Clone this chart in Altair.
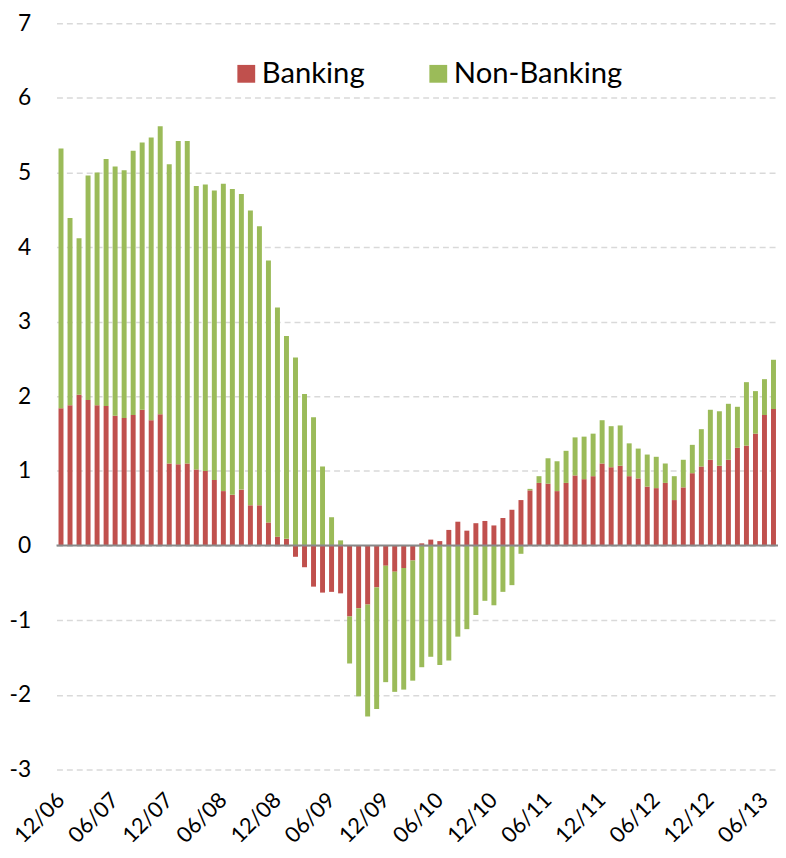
import altair as alt
import pandas as pd

months = [
    "12/06",
    "01/07", "02/07", "03/07", "04/07", "05/07", "06/07", "07/07", "08/07", "09/07", "10/07", "11/07", "12/07",
    "01/08", "02/08", "03/08", "04/08", "05/08", "06/08", "07/08", "08/08", "09/08", "10/08", "11/08", "12/08",
    "01/09", "02/09", "03/09", "04/09", "05/09", "06/09", "07/09", "08/09", "09/09", "10/09", "11/09", "12/09",
    "01/10", "02/10", "03/10", "04/10", "05/10", "06/10", "07/10", "08/10", "09/10", "10/10", "11/10", "12/10",
    "01/11", "02/11", "03/11", "04/11", "05/11", "06/11", "07/11", "08/11", "09/11", "10/11", "11/11", "12/11",
    "01/12", "02/12", "03/12", "04/12", "05/12", "06/12", "07/12", "08/12", "09/12", "10/12", "11/12", "12/12",
    "01/13", "02/13", "03/13", "04/13", "05/13", "06/13", "07/13",
]

banking = [
    1.84, 1.88, 2.02, 1.95, 1.88, 1.87, 1.74, 1.71, 1.75, 1.82, 1.68, 1.76,
    1.10, 1.09, 1.10, 1.02, 1.00, 0.88, 0.73, 0.68, 0.75, 0.54, 0.54, 0.31,
    0.12, 0.09, -0.15, -0.29, -0.55, -0.63, -0.62, -0.64, -0.95, -0.84, -0.79, -0.56,
    -0.27, -0.35, -0.30, -0.20, 0.03, 0.08, 0.06, 0.21, 0.32, 0.20, 0.30, 0.33,
    0.27, 0.37, 0.48, 0.61, 0.74, 0.84, 0.83, 0.73, 0.84, 0.94, 0.89, 0.93,
    1.10, 1.05, 1.07, 0.93, 0.90, 0.79, 0.77, 0.84, 0.61, 0.78, 0.97, 1.06,
    1.15, 1.07, 1.15, 1.31, 1.34, 1.50, 1.75, 1.83,
]

non_banking = [
    3.48, 2.51, 2.10, 3.01, 3.12, 3.31, 3.34, 3.32, 3.54, 3.58, 3.79, 3.86,
    4.01, 4.33, 4.32, 3.80, 3.84, 3.88, 4.12, 4.10, 3.96, 3.95, 3.74, 3.51,
    3.07, 2.72, 2.52, 2.03, 1.72, 1.06, 0.38, 0.07, -0.63, -1.18, -1.50, -1.63,
    -1.56, -1.61, -1.63, -1.61, -1.63, -1.49, -1.60, -1.54, -1.22, -1.12, -0.93, -0.74,
    -0.80, -0.62, -0.53, -0.11, 0.02, 0.09, 0.34, 0.40, 0.43, 0.51, 0.57, 0.57,
    0.58, 0.55, 0.54, 0.44, 0.40, 0.43, 0.42, 0.26, 0.32, 0.37, 0.38, 0.50,
    0.67, 0.73, 0.75, 0.55, 0.85, 0.57, 0.48, 0.66,
]

tick_labels = ["12/06", "06/07", "12/07", "06/08", "12/08", "06/09", "12/09",
               "06/10", "12/10", "06/11", "12/11", "06/12", "12/12", "06/13"]
y_ticks = [-3, -2, -1, 0, 1, 2, 3, 4, 5, 6, 7]
series = ["Banking", "Non-Banking"]
colors = ["#C0504D", "#9BBB59"]

rows = []
for i, m in enumerate(months):
    rows.append({"month": m, "series": series[0], "value": banking[i], "ord": 0})
    rows.append({"month": m, "series": series[1], "value": non_banking[i], "ord": 1})
df = pd.DataFrame(rows)

FONT = "Lato"

bars = alt.Chart(df).mark_bar().encode(
    x=alt.X(
        "month:N",
        sort=months,
        scale=alt.Scale(paddingInner=0.45, paddingOuter=0.225),
        axis=alt.Axis(
            values=tick_labels, labelAngle=-45, labelAlign="right", labelBaseline="middle",
            labelPadding=27, ticks=False, domain=False, grid=False, title=None,
            labelFont=FONT, labelFontSize=22, labelColor="#000000",
        ),
    ),
    y=alt.Y(
        "value:Q",
        stack="zero",
        scale=alt.Scale(domain=[-3, 7], nice=False, zero=False),
        axis=alt.Axis(
            values=y_ticks, labelExpr="'' + datum.value", grid=True, gridDash=[6, 4],
            gridColor="#d9d9d9", gridWidth=1.5, ticks=False, domain=False, labelPadding=26,
            title=None, labelFont=FONT, labelFontSize=23, labelColor="#000000",
        ),
    ),
    color=alt.Color(
        "series:N",
        scale=alt.Scale(domain=series, range=colors),
        legend=alt.Legend(
            orient="none", legendX=177, legendY=36, direction="horizontal", title=None,
            symbolType="square", symbolSize=324, symbolStrokeWidth=0, symbolOpacity=1,
            labelFont=FONT, labelFontSize=29.5, labelColor="#000000", labelOffset=1,
            labelLimit=400, columnPadding=59, padding=0,
        ),
    ),
    order=alt.Order("ord:Q"),
)

zero = alt.Chart(pd.DataFrame({"y": [0]})).mark_rule(color="#898989", strokeWidth=2).encode(
    y="y:Q"
)

chart = alt.layer(bars, zero).properties(
    width=729,
    height=754,
    autosize=alt.AutoSizeParams(type="none"),
    padding={"left": 49, "top": 11, "right": 0, "bottom": 77},
).configure_view(stroke=None)

chart.save("out.html", embed_options={"renderer": "svg", "actions": False})
